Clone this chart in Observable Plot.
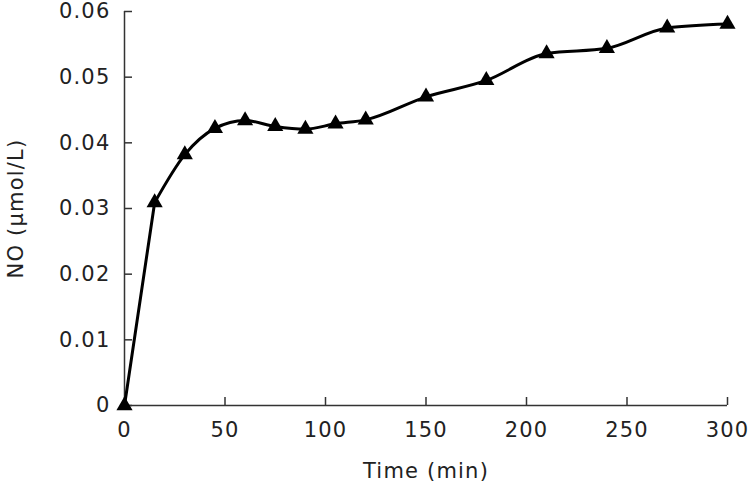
<!DOCTYPE html>
<html><head><meta charset="utf-8">
<script src="https://cdn.jsdelivr.net/npm/d3@7"></script>
<script src="https://cdn.jsdelivr.net/npm/@observablehq/plot@0.6"></script>
<style>
body{margin:0;background:#fff;}
svg{font-family:"DejaVu Sans",sans-serif;}
</style></head>
<body><div id="chart"></div>
<script>
const times = [0,15,30,45,60,75,90,105,120,150,180,210,240,270,300];
const no = [0,0.0309,0.0382,0.0422,0.0434,0.0425,0.0421,0.0429,0.0435,0.0470,0.0495,0.0536,0.0544,0.0575,0.0581];
const xTicks = [0,50,100,150,200,250,300];
const yTicks = [0,0.01,0.02,0.03,0.04,0.05,0.06];
const yTickLabels = ["0","0.01","0.02","0.03","0.04","0.05","0.06"];
const data = times.map((t,i)=>({t, v: no[i]}));

const W = 750, H = 488, mL = 124, mR = 23, mT = 11, mB = 83;
const frameW = W - mL - mR, frameH = H - mT - mB, tickLen = 8;

const chart = Plot.plot({
  width: W, height: H,
  marginLeft: mL, marginRight: mR, marginTop: mT, marginBottom: mB,
  style: {fontSize: "21px", color: "#222", letterSpacing: "1.2px"},
  x: {domain: [0,300]},
  y: {domain: [0,0.06]},
  marks: [
    Plot.ruleX([0], {y1: 0, y2: 0.06, stroke: "#333", strokeWidth: 1.5}),
    Plot.ruleY([0], {x1: 0, x2: 300, stroke: "#333", strokeWidth: 1.5}),
    Plot.ruleX(xTicks, {x: d => d, insetTop: frameH - tickLen, stroke: "#333", strokeWidth: 1.5}),
    Plot.ruleY(yTicks, {y: d => d, insetRight: frameW - tickLen, stroke: "#333", strokeWidth: 1.5}),
    Plot.axisY({ticks: yTicks, tickFormat: d => yTickLabels[yTicks.indexOf(d)], tickSize: 0, tickPadding: 14, label: "NO (μmol/L)", labelAnchor: "center", labelArrow: "none", labelOffset: 116}),
    Plot.axisX({ticks: xTicks, tickSize: 0, tickPadding: 17, label: "Time (min)", labelAnchor: "center", labelArrow: "none", labelOffset: 72}),
    Plot.line(data.slice(0,2), {x: "t", y: "v", stroke: "#000", strokeWidth: 3}),
    Plot.line(data.slice(1), {x: "t", y: "v", curve: "monotone-x", stroke: "#000", strokeWidth: 3}),
    Plot.dot(data, {x: "t", y: "v", symbol: "triangle", r: 6, fill: "#000", stroke: "none"})
  ]
});
document.getElementById("chart").appendChild(chart);
</script></body></html>
